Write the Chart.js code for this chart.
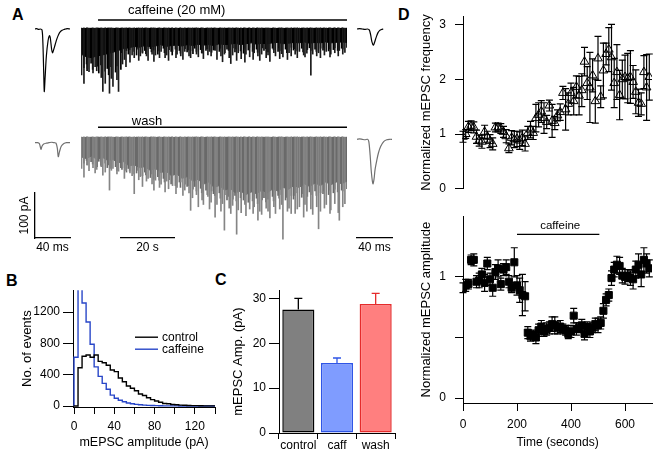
<!DOCTYPE html>
<html><head><meta charset="utf-8">
<script src="https://cdn.jsdelivr.net/npm/chart.js@4.4.1/dist/chart.umd.min.js"></script>
<style>
html,body{margin:0;padding:0;background:#fff;}
body{width:662px;height:454px;position:relative;overflow:hidden;font-family:"Liberation Sans",Arial,Helvetica,sans-serif;}
canvas{position:absolute;}
.lbl{position:absolute;font-weight:bold;font-size:16px;line-height:16px;color:#000;}
</style></head><body>
<div class="lbl" style="left:12px;top:7px">A</div>
<div class="lbl" style="left:6px;top:273px">B</div>
<div class="lbl" style="left:215px;top:272px">C</div>
<div class="lbl" style="left:398px;top:7px">D</div>
<script>
// ---------------- DATA ----------------
// Panel A: example traces (time in ms, current in pA relative to baseline)
const ctrlLeftTimeMs = [0,2,4,6,8,9,10,10.6,11.5,13,15,16.5,17.5,19,20,21,23,25,27,29,31,33,35,37,40];
const ctrlLeftPA     = [0,1,-1,0,-2,-30,-100,-139,-110,-60,-25,-15,-20,-45,-53,-48,-35,-22,-12,-6,-3,-1,0,1,0];
const caffRightTimeMs = [0,3,6,9,12,14,15.5,17,18.7,20,22,24,26,28,30];
const caffRightPA     = [0,1,0,-1,0,-2,-12,-28,-36,-30,-18,-8,-3,-1,0];
const washLeftTimeMs = [0,3,5,6,6.9,8,10,13,16,19,22,24,25.5,26.6,28,30,33,36,40];
const washLeftPA     = [0,0,-2,-9,-15,-8,-3,-1,0,1,0,-1,-12,-31,-20,-8,-2,0,0];
const washRightTimeMs = [0,3,6,9,12,13.5,15,16.5,18.2,19.5,20.6,22.5,24.4,27,30.5,34,37,40];
const washRightPA     = [0,1,0,-1,0,-5,-35,-75,-99,-88,-68,-48,-31,-16,-5,-1,0,0];

// Continuous recordings (100 s): dense noise band depth (pA) and event times (s) / amplitudes (pA)
const bandTimeSec = [0,2,4,6,8,10,12,14,16,18,20,22,24,26,28,30,32,34,36,38,40,42,44,46,48,50,52,54,56,58,60,62,64,66,68,70,72,74,76,78,80,82,84,86,88,90,92,94,96,98,100];
const caffBandPA = [58,64,66,62,60,57,54,50,46,44,41,43,39,42,40,37,41,39,38,40,37,39,36,38,37,39,35,37,36,34,37,35,33,36,34,35,33,32,35,34,32,33,31,34,32,33,31,33,32,31,32];
const washBandPA = [44,48,42,50,45,52,50,57,55,64,62,68,66,74,70,79,76,86,82,92,88,98,94,105,100,112,108,118,114,124,120,128,122,126,118,124,116,120,112,116,108,112,104,110,102,108,100,106,100,104,98];
const bigEventTimeSec = [0.4,1.3,2.6,3.2,4.7,5.5,6.1,7.8,8.4,9.3,
  10.9,11.6,12.2,13.7,14.3,15.8,16.5,17.1,18.6,19.4,
  20.2,21.9,22.5,23.3,24.8,25.4,26.9,27.6,28.2,29.7,
  30.3,31.8,32.4,33.1,34.6,35.9,36.3,37.7,38.5,39.2,
  40.8,41.4,42.1,43.6,44.3,45.7,46.2,47.9,48.5,49.1,
  50.6,51.3,52.8,53.4,54.1,55.9,56.5,57.2,58.7,59.3,
  60.4,61.8,62.2,63.6,64.9,65.3,66.7,67.4,68.1,69.8,
  70.5,71.2,72.7,73.3,74.9,75.6,76.1,77.8,78.4,79.2,
  80.7,81.5,82.3,83.9,84.4,85.1,86.6,87.3,88.8,89.5,
  90.2,91.7,92.4,93.8,94.1,95.6,96.9,97.3,98.6,99.4];
const smallEventTimeSec = [0.9,1.9,2.1,3.6,4.2,5.9,6.5,7.3,8.9,9.7,
  10.2,11.1,12.8,13.3,14.8,15.2,16.9,17.6,18.1,19.8,
  20.7,21.3,22.9,23.8,24.2,25.9,26.3,27.1,28.7,29.2,
  30.8,31.2,32.9,33.7,34.1,35.3,36.8,37.2,38.9,39.7,
  40.2,41.9,42.6,43.2,44.8,45.2,46.8,47.3,48.9,49.6,
  50.1,51.8,52.2,53.9,54.7,55.3,56.9,57.7,58.2,59.8,
  60.9,61.2,62.7,63.1,64.3,65.8,66.2,67.9,68.6,69.3,
  70.1,71.8,72.2,73.9,74.3,75.1,76.7,77.2,78.9,79.7,
  80.2,81.1,82.8,83.3,84.9,85.7,86.2,87.8,88.3,89.9,
  90.8,91.2,92.9,93.2,94.7,95.2,96.3,97.8,98.2,99.8];
const caffBigEventsPA = [104,123,90,97,100,86,95,110,141,123,145,112,130,115,141,
  80,70,86,76,60,66,72,62,56,62,72,58,74,60,66,52,66,60,72,52,66,58,62,70,52,62,66,50,58,64,56,68,60,52,62,
  50,70,62,75,58,66,79,60,72,55,68,76,58,64,70,55,62,72,58,66,60,74,55,62,68,57,64,70,55,62,
  58,66,52,60,64,56,105,58,62,55,66,60,52,64,58,55,62,50,58,54];
const caffSmallEventsPA = [88,80,95,78,92,85,100,82,96,90,104,86,98,84,92,
  55,50,58,48,52,60,47,54,50,57,46,53,49,58,51,45,55,48,52,60,47,50,56,46,53,49,57,45,52,48,55,50,46,54,49,
  48,52,45,55,47,50,44,53,46,51,56,45,49,43,52,47,54,44,50,46,53,45,48,52,44,50,47,55,43,49,
  46,51,45,53,48,44,50,47,52,45,49,43,51,46,48,44,50,45,47,43];
const washBigEventsPA = [70,89,62,75,68,80,72,66,85,78,
  118,74,70,82,76,68,92,74,80,86,
  126,95,88,110,98,92,104,118,96,112,
  105,122,98,115,108,126,112,100,130,118,
  124,163,135,128,155,140,150,132,160,145,
  178,150,165,148,207,158,170,152,216,162,
  168,150,175,160,170,155,185,165,172,158,
  165,180,155,170,160,150,227,165,158,170,
  170,160,155,178,150,165,160,172,155,204,
  165,158,150,170,162,148,168,185,155,148];
const washSmallEventsPA = [58,52,62,55,60,66,54,63,58,68,
  62,70,66,74,68,72,78,70,76,82,
  80,74,86,78,84,90,82,94,88,96,
  92,100,95,104,98,108,100,112,105,110,
  108,116,110,120,114,124,118,128,120,126,
  130,124,136,128,140,132,138,130,142,135,
  140,134,145,138,142,136,148,140,135,144,
  138,132,142,130,136,128,140,134,130,138,
  130,124,134,126,132,122,128,120,130,124,
  126,120,128,118,124,116,122,118,120,115];
const caffeinePeriodSec = [6.4, 100];
const washPeriodSec = [6.4, 100];
const scaleBarMs = 40, scaleBarPA = 100, scaleBarSec = 20;

// Panel B: amplitude histogram (bin start, pA) and counts
const histBinPA = [0,4,8,12,16,20,24,28,32,36,40,44,48,52,56,60,64,68,72,76,80,84,88,92,96,100,104,108,112,116,120,124,128,132,136];
const histBinEndPA = 140;
const histControl = [0,0,489,636,652,624,652,571,554,522,461,440,359,310,257,228,196,155,135,106,82,65,49,33,29,20,16,12,10,8,6,5,4,3,2];
const histCaffeine = [0,624,1540,1317,1073,790,500,379,290,215,140,100,75,55,40,30,22,16,12,9,7,5,4,3,3,2,2,1,1,1,1,0,0,0,0];
const histXTicks = [0,20,40,60,80,100,120,140];
const histXLabels = ['0','','40','','80','','120',''];
const histYTicks = [0,400,800,1200];
const histYLabels = ['0','400','800','1200'];

// Panel C: mean amplitude
const ampCategories = ['control','caff','wash'];
const ampMeans = [27.5, 15.6, 28.7];
const ampSem = [2.5, 1.1, 2.4];
const ampYTicks = [0,10,20,30];

// Panel D: normalized time course
const timeSec = [0,10,20,30,40,50,60,70,80,90,100,110,120,130,140,150,160,170,180,190,200,210,220,230,240,250,260,270,280,290,300,310,320,330,340,350,360,370,380,390,400,410,420,430,440,450,460,470,480,490,500,510,520,530,540,550,560,570,580,590,600,610,620,630,640,650,660,670,680,690];
const freqNorm = [0.95,1.00,1.13,1.15,1.12,0.95,0.88,0.86,1.04,0.95,
  0.87,0.82,1.12,1.12,1.10,1.04,0.96,0.74,0.93,0.90,
  0.91,0.88,0.93,0.82,1.02,1.08,1.02,1.29,1.35,1.41,
  1.29,1.22,1.52,1.24,1.20,1.34,1.40,1.75,1.45,1.55,
  1.75,1.60,1.86,1.70,1.80,2.32,1.93,1.85,2.07,1.60,
  2.38,1.68,2.16,2.46,2.54,2.40,1.93,2.13,1.71,2.00,
  2.04,2.02,2.04,1.95,1.77,1.57,1.55,2.13,1.85,2.04];
const freqSem = [0.10,0.08,0.10,0.09,0.10,0.12,0.10,0.12,0.12,0.10,
  0.12,0.11,0.08,0.08,0.09,0.10,0.12,0.08,0.13,0.15,
  0.14,0.16,0.14,0.13,0.12,0.15,0.12,0.25,0.22,0.20,
  0.28,0.12,0.10,0.30,0.12,0.10,0.15,0.12,0.38,0.20,
  0.18,0.25,0.20,0.35,0.30,0.26,0.30,0.64,0.30,0.40,
  0.40,0.20,0.50,0.20,0.40,0.60,0.45,0.50,0.45,0.35,
  0.40,0.45,0.48,0.30,0.40,0.25,0.20,0.30,0.60,0.42];
const ampNorm = [0.91,0.93,0.94,1.14,1.14,0.96,0.97,1.02,0.95,1.11,
  0.98,0.91,1.04,1.07,0.94,1.06,1.08,0.96,0.91,1.12,
  0.93,0.89,0.85,0.84,0.54,0.51,0.52,0.50,0.56,0.59,
  0.55,0.57,0.58,0.61,0.60,0.58,0.59,0.57,0.56,0.53,
  0.55,0.68,0.57,0.58,0.60,0.53,0.59,0.55,0.58,0.61,
  0.60,0.62,0.72,0.81,0.85,0.99,1.06,1.10,1.09,1.01,
  1.00,1.01,0.99,0.98,1.06,1.10,1.02,1.14,1.11,1.07];
const ampNormSem = [0.04,0.05,0.04,0.04,0.05,0.05,0.06,0.05,0.07,0.05,
  0.05,0.07,0.06,0.07,0.05,0.05,0.06,0.05,0.04,0.12,
  0.08,0.10,0.17,0.12,0.05,0.04,0.04,0.05,0.05,0.05,
  0.04,0.05,0.05,0.06,0.07,0.05,0.05,0.04,0.04,0.04,
  0.05,0.06,0.05,0.04,0.05,0.05,0.04,0.05,0.04,0.05,
  0.06,0.05,0.06,0.05,0.05,0.06,0.06,0.07,0.07,0.06,
  0.06,0.05,0.06,0.08,0.07,0.09,0.10,0.10,0.08,0.07];
const caffeineBathSec = [200, 505];
const timeTicks = [0,200,400,600];
const freqYTicks = [0,1,2,3];
const ampNormYTicks = [0,0.5,1];
const ampNormYLabels = ['0','','1'];

// ---------------- SETUP ----------------
const FONT = '"Liberation Sans", Arial, Helvetica, sans-serif';
Chart.defaults.font.family = FONT;
Chart.defaults.font.size = 12;
Chart.defaults.color = '#000';
Chart.defaults.animation = false;
Chart.defaults.responsive = false;
Chart.defaults.devicePixelRatio = 1;
Chart.defaults.plugins.legend.display = false;
Chart.defaults.plugins.tooltip.enabled = false;

const PX_PER_PA = 0.45, PX_PER_MS = 0.875, PX_PER_S = 2.66;

function mk(left, top, w, h) {
  const c = document.createElement('canvas');
  c.width = w; c.height = h;
  c.style.left = left + 'px'; c.style.top = top + 'px';
  c.style.width = w + 'px'; c.style.height = h + 'px';
  document.body.appendChild(c);
  return c;
}
const pairs = (xs, ys) => xs.map((x, i) => ({x: x, y: ys[i]}));
const fixTicks = (arr) => (s) => { s.ticks = arr.map(v => ({value: v})); };

const errBarsPlugin = {
  id: 'errbars',
  afterDatasetsDraw(chart) {
    const ctx = chart.ctx;
    chart.data.datasets.forEach((ds, i) => {
      if (!ds.errors) return;
      const meta = chart.getDatasetMeta(i);
      const ys = chart.scales[meta.yAxisID];
      const cap = ds.errorCap || 3.5;
      ctx.save();
      ctx.lineWidth = ds.errorWidth || 1;
      meta.data.forEach((el, j) => {
        const d = ds.data[j];
        const v = (typeof d === 'object') ? d.y : d;
        const e = ds.errors[j];
        const x = el.x;
        const yTop = ys.getPixelForValue(v + e);
        const yBot = ds.errorUpOnly ? ys.getPixelForValue(v) : ys.getPixelForValue(v - e);
        ctx.strokeStyle = ds.errorColors ? ds.errorColors[j] : '#000';
        ctx.beginPath();
        ctx.moveTo(x, yTop); ctx.lineTo(x, yBot);
        ctx.moveTo(x - cap, yTop); ctx.lineTo(x + cap, yTop);
        if (!ds.errorUpOnly) { ctx.moveTo(x - cap, yBot); ctx.lineTo(x + cap, yBot); }
        ctx.stroke();
      });
      ctx.restore();
    });
  }
};

const annotPlugin = {
  id: 'annot',
  afterDatasetsDraw(chart, args, opts) {
    const ctx = chart.ctx, xs = chart.scales.x, ys = chart.scales.y;
    ctx.save();
    ctx.strokeStyle = '#000'; ctx.lineWidth = opts.lineWidth || 1.5;
    (opts.lines || []).forEach(l => {
      ctx.beginPath();
      ctx.moveTo(xs.getPixelForValue(l.x1), ys.getPixelForValue(l.y));
      ctx.lineTo(xs.getPixelForValue(l.x2), ys.getPixelForValue(l.y));
      ctx.stroke();
    });
    ctx.fillStyle = '#000'; ctx.textAlign = 'center'; ctx.textBaseline = 'middle';
    ctx.font = (opts.fontSize || 13) + 'px ' + FONT;
    (opts.texts || []).forEach(t => ctx.fillText(t.text, xs.getPixelForValue(t.x), ys.getPixelForValue(t.y)));
    ctx.restore();
  }
};

const histLegendPlugin = {
  id: 'histLegend',
  afterDraw(chart) {
    const {ctx, chartArea: a} = chart;
    ctx.save();
    chart.data.datasets.forEach((ds, i) => {
      const y = a.top + 47 + i * 12;
      ctx.strokeStyle = ds.borderColor; ctx.lineWidth = 1.4;
      ctx.beginPath(); ctx.moveTo(a.left + 62, y); ctx.lineTo(a.left + 85, y); ctx.stroke();
      ctx.fillStyle = '#000'; ctx.font = '12px ' + FONT; ctx.textBaseline = 'middle'; ctx.textAlign = 'left';
      ctx.fillText(ds.label, a.left + 89, y);
    });
    ctx.restore();
  }
};

function traceRange(top, height, baselineY) {
  return {max: (baselineY - top) / PX_PER_PA, min: -(top + height - baselineY) / PX_PER_PA};
}

function smallTrace(box, baselineY, t, v, color) {
  const r = traceRange(box[1], box[3], baselineY);
  new Chart(mk(box[0], box[1], box[2], box[3]), {
    type: 'line',
    data: {datasets: [{data: pairs(t, v), borderColor: color, borderWidth: 1.2, pointRadius: 0, tension: 0.3, fill: false}]},
    options: {layout: {padding: 0},
      scales: {x: {type: 'linear', display: false, min: 0, max: box[2] / PX_PER_MS},
               y: {display: false, min: r.min, max: r.max}}}
  });
}

function denseTrace(box, baselineY, band, bigEv, smallEv, bandColor, spikeColor, annot) {
  const r = traceRange(box[1], box[3], baselineY);
  new Chart(mk(box[0], box[1], box[2], box[3]), {
    type: 'bar',
    data: {datasets: [
      {type: 'line', data: pairs(bandTimeSec, band.map(v => -v)), borderColor: bandColor, backgroundColor: bandColor,
       borderWidth: 1, pointRadius: 0, fill: 'origin', tension: 0, order: 3},
      {type: 'bar', data: smallEventTimeSec.map((x, i) => ({x: x, y: [0, -smallEv[i]]})), backgroundColor: bandColor,
       barThickness: 1, borderWidth: 0, order: 2},
      {type: 'bar', data: bigEventTimeSec.map((x, i) => ({x: x, y: [0, -bigEv[i]]})), backgroundColor: spikeColor,
       barThickness: 1, borderWidth: 0, order: 1}
    ]},
    options: {layout: {padding: 0},
      scales: {x: {type: 'linear', display: false, min: 0, max: box[2] / PX_PER_S, offset: false},
               y: {display: false, min: r.min, max: r.max}},
      plugins: {annot: annot}},
    plugins: [annotPlugin]
  });
}

// ---------------- PANEL A ----------------
smallTrace([35, 0, 35, 100], 29, ctrlLeftTimeMs, ctrlLeftPA, '#000');
smallTrace([357, 0, 35, 100], 29, caffRightTimeMs, caffRightPA, '#000');
smallTrace([35, 110, 35, 100], 142.7, washLeftTimeMs, washLeftPA, '#707070');
smallTrace([357, 110, 35, 100], 139.3, washRightTimeMs, washRightPA, '#707070');

denseTrace([81, 0, 266, 100], 28, caffBandPA, caffBigEventsPA, caffSmallEventsPA, '#000', '#1a1a1a',
  {lines: [{x1: caffeinePeriodSec[0], x2: caffeinePeriodSec[1], y: 17.8}],
   texts: [{x: 36, y: 40, text: 'caffeine (20 mM)'}], fontSize: 13});
denseTrace([81, 110, 266, 135], 137, washBandPA, washBigEventsPA, washSmallEventsPA, '#6a6a6a', '#858585',
  {lines: [{x1: washPeriodSec[0], x2: washPeriodSec[1], y: 21.6}],
   texts: [{x: 24.8, y: 35.6, text: 'wash'}], fontSize: 13});

function barAxis(min, max, title, size, show) {
  return {type: 'linear', min: min, max: max, display: show,
    ticks: {display: false}, grid: {display: false},
    border: {display: true, color: '#000', width: 1.3},
    title: {display: true, text: title, padding: 0, font: {size: 12}},
    afterFit: s => { if (s.isHorizontal()) s.height = size; else s.width = size; }};
}
// scale bars (100 pA, 40 ms, 20 s)
new Chart(mk(10, 185, 70, 70), {type: 'line', data: {datasets: []},
  options: {layout: {padding: {left: 7, right: 10, top: 8, bottom: 0}},
    scales: {x: barAxis(0, scaleBarMs, scaleBarMs + ' ms', 17, true), y: barAxis(0, scaleBarPA, scaleBarPA + ' pA', 18, true)}}});
new Chart(mk(110, 220, 75, 35), {type: 'line', data: {datasets: []},
  options: {layout: {padding: {left: 11, right: 11, top: 0, bottom: 0}},
    scales: {x: barAxis(0, scaleBarSec, scaleBarSec + ' s', 17, true), y: barAxis(0, 1, '', 0, false)}}});
new Chart(mk(346, 220, 57, 35), {type: 'line', data: {datasets: []},
  options: {layout: {padding: {left: 11, right: 11, top: 0, bottom: 0}},
    scales: {x: barAxis(0, scaleBarMs, scaleBarMs + ' ms', 17, true), y: barAxis(0, 1, '', 0, false)}}});

// ---------------- PANEL B ----------------
const stepData = (vals) => pairs(histBinPA.concat([histBinEndPA]), vals.concat([vals[vals.length - 1]]));
new Chart(mk(0, 280, 230, 174), {
  type: 'line',
  data: {datasets: [
    {label: 'control', data: stepData(histControl), borderColor: '#000', borderWidth: 1.4, stepped: 'after', pointRadius: 0, fill: false},
    {label: 'caffeine', data: stepData(histCaffeine), borderColor: '#2846c8', borderWidth: 1.4, stepped: 'after', pointRadius: 0, fill: false}
  ]},
  options: {
    layout: {padding: {left: 20, right: 15, top: 5, bottom: 4}},
    scales: {
      x: {type: 'linear', min: -1, max: 140, afterBuildTicks: fixTicks(histXTicks),
        grid: {drawOnChartArea: false, tickLength: 7, color: '#000'}, border: {color: '#000'},
        ticks: {padding: 5, maxRotation: 0, autoSkip: false, callback: (v, i) => histXLabels[i]},
        title: {display: true, text: 'mEPSC amplitude (pA)', font: {size: 12.5}, padding: 0},
        afterFit: s => { s.height = 43; }},
      y: {min: -12, max: 1480, afterBuildTicks: fixTicks(histYTicks),
        grid: {drawOnChartArea: false, tickLength: 10, color: '#000'}, border: {color: '#000'},
        ticks: {padding: 3, autoSkip: false, callback: (v, i) => histYLabels[i]},
        title: {display: true, text: 'No. of events', font: {size: 13}, padding: 0},
        afterFit: s => { s.width = 53; }}
    }
  },
  plugins: [histLegendPlugin]
});

// ---------------- PANEL C ----------------
new Chart(mk(220, 280, 200, 174), {
  type: 'bar',
  data: {labels: ampCategories, datasets: [{
    data: ampMeans, errors: ampSem, errorUpOnly: true, errorCap: 4, errorWidth: 1.3,
    errorColors: ['#000', '#2f55e6', '#e52b2b'],
    backgroundColor: ['#808080', '#7f9cff', '#ff7f7f'],
    borderColor: ['#000', '#2f55e6', '#e52b2b'], borderWidth: 1.5, borderSkipped: false,
    barPercentage: 0.83, categoryPercentage: 1}]},
  options: {
    layout: {padding: {left: 11, right: 25, top: 5, bottom: 0}},
    scales: {
      x: {grid: {offset: true, drawOnChartArea: false, tickLength: 6, color: '#000'}, border: {color: '#000'},
        ticks: {padding: -1, maxRotation: 0, autoSkip: false},
        afterFit: s => { s.height = 21; }},
      y: {min: 0, max: 31.8, afterBuildTicks: fixTicks(ampYTicks),
        grid: {drawOnChartArea: false, tickLength: 10, color: '#000'}, border: {color: '#000'},
        ticks: {padding: 3},
        title: {display: true, text: 'mEPSC Amp. (pA)', font: {size: 13}, padding: 0},
        afterFit: s => { s.width = 48; }}
    }
  },
  plugins: [errBarsPlugin]
});

// ---------------- PANEL D ----------------
new Chart(mk(410, 0, 252, 205), {
  type: 'scatter',
  data: {datasets: [{data: pairs(timeSec, freqNorm), errors: freqSem, errorCap: 3.5, errorWidth: 1.2,
    pointStyle: 'triangle', pointRadius: 5, borderColor: '#000', backgroundColor: 'rgba(255,255,255,0)', borderWidth: 1}]},
  options: {
    layout: {padding: {left: 9, right: 10, top: 7, bottom: 9}},
    scales: {
      x: {type: 'linear', display: false, min: 0, max: 700},
      y: {min: 0, max: 3.15, afterBuildTicks: fixTicks(freqYTicks),
        grid: {drawOnChartArea: false, tickLength: 8, color: '#000'}, border: {color: '#000'},
        ticks: {padding: 9},
        title: {display: true, text: 'Normalized mEPSC frequency', font: {size: 13}, padding: 0},
        afterFit: s => { s.width = 44; }}
    }
  },
  plugins: [errBarsPlugin]
});

new Chart(mk(410, 200, 252, 254), {
  type: 'scatter',
  data: {datasets: [{data: pairs(timeSec, ampNorm), errors: ampNormSem, errorCap: 3.5, errorWidth: 1.2,
    pointStyle: 'rect', pointRadius: 5, borderColor: '#000', backgroundColor: '#000', borderWidth: 1}]},
  options: {
    layout: {padding: {left: 9, right: 10, top: 5, bottom: 4}},
    scales: {
      x: {type: 'linear', min: 0, max: 700, afterBuildTicks: fixTicks(timeTicks),
        grid: {drawOnChartArea: false, tickLength: 8, color: '#000'}, border: {color: '#000'},
        ticks: {padding: 6, maxRotation: 0},
        title: {display: true, text: 'Time (seconds)', font: {size: 12}, padding: 0},
        afterFit: s => { s.height = 47; }},
      y: {min: -0.04, max: 1.5, afterBuildTicks: fixTicks(ampNormYTicks),
        grid: {drawOnChartArea: false, tickLength: 8, color: '#000'}, border: {color: '#000'},
        ticks: {padding: 9, callback: (v, i) => ampNormYLabels[i]},
        title: {display: true, text: 'Normalized mEPSC amplitude', font: {size: 13}, padding: 0},
        afterFit: s => { s.width = 44; }}
    },
    plugins: {annot: {lines: [{x1: caffeineBathSec[0], x2: caffeineBathSec[1], y: 1.35}],
      texts: [{x: 360, y: 1.42, text: 'caffeine'}], fontSize: 11.5, lineWidth: 1.3}}
  },
  plugins: [errBarsPlugin, annotPlugin]
});
</script>
</body></html>
